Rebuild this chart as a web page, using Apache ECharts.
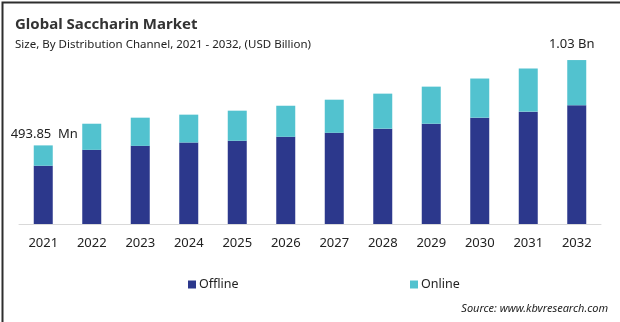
<!DOCTYPE html>
<html>
<head>
<meta charset="utf-8">
<script src="https://cdn.jsdelivr.net/npm/echarts@6/dist/echarts.min.js"></script>
<style>
  html, body { margin: 0; padding: 0; background: #fff; }
  #chart { width: 620px; height: 322px; }
</style>
</head>
<body>
<div id="chart"></div>
<script>
// Saccharin market size by distribution channel, USD million
const years = ['2021', '2022', '2023', '2024', '2025', '2026', '2027', '2028', '2029', '2030', '2031', '2032'];
const offline = [366, 466, 491, 512, 523, 548, 573, 599, 630, 668, 706, 746];
const online = [127.85, 164, 177, 175, 189, 195, 208, 220, 233, 246, 271, 284];

const FONT = '"Noto Sans", "Open Sans", sans-serif';
const totals = years.map((_, i) => offline[i] + online[i]);

function totalLabel(v) {
  return v >= 1000 ? (v / 1000).toFixed(2) + ' Bn' : v.toFixed(2) + '  Mn';
}

const chart = echarts.init(document.getElementById('chart'), null, { renderer: 'canvas' });

const onlineData = online.map((v, i) => {
  const item = { value: v };
  if (i === 0) {
    item.label = { show: true, offset: [1, 0] };
  } else if (i === online.length - 1) {
    item.label = { show: true, offset: [-5, -4] };
  }
  return item;
});

chart.setOption({
  animation: false,
  backgroundColor: '#ffffff',
  title: {
    text: 'Global Saccharin Market',
    subtext: 'Size, By Distribution Channel, 2021 - 2032, (USD Billion)',
    left: 10,
    top: 12,
    itemGap: 7,
    textStyle: { fontFamily: FONT, fontSize: 15, fontWeight: 'bold', color: '#333333' },
    subtextStyle: { fontFamily: FONT, fontSize: 11.5, color: '#222222' }
  },
  legend: [
    {
      data: ['Offline'],
      left: 183, top: 273,
      icon: 'rect', itemWidth: 8, itemHeight: 8, itemGap: 5,
      textStyle: { fontFamily: FONT, fontSize: 12.5, color: '#222222', padding: [0, 0, 0, -2] }
    },
    {
      data: ['Online'],
      left: 405, top: 273,
      icon: 'rect', itemWidth: 8, itemHeight: 8, itemGap: 5,
      textStyle: { fontFamily: FONT, fontSize: 12.5, color: '#222222', padding: [0, 0, 0, -2] }
    }
  ],
  grid: { left: 19, right: 19, top: 33, bottom: 98, containLabel: false },
  xAxis: {
    type: 'category',
    data: years,
    axisLine: { lineStyle: { color: '#d9d9d9', width: 1 } },
    axisTick: { show: false },
    axisLabel: { fontFamily: FONT, fontSize: 13, color: '#222222', margin: 13 }
  },
  yAxis: {
    type: 'value',
    min: 0,
    max: 1200,
    show: false,
    splitLine: { show: false }
  },
  series: [
    {
      name: 'Offline',
      type: 'bar',
      stack: 'total',
      barWidth: 19,
      data: offline,
      itemStyle: { color: '#2c388c' }
    },
    {
      name: 'Online',
      type: 'bar',
      stack: 'total',
      barWidth: 19,
      data: onlineData,
      itemStyle: { color: '#52c2cf' },
      label: {
        show: false,
        position: 'top',
        distance: 5,
        fontFamily: FONT,
        fontSize: 13,
        color: '#222222',
        formatter: p => totalLabel(totals[p.dataIndex])
      }
    }
  ],
  graphic: [
    {
      type: 'text',
      right: 12,
      top: 303,
      style: {
        text: 'Source: www.kbvresearch.com',
        font: 'italic 11px ' + FONT,
        fill: '#222222'
      }
    },
    {
      type: 'rect',
      left: 0, top: 0,
      shape: { x: 0, y: 0, width: 619, height: 321 },
      style: { fill: 'none', stroke: '#2e2e2e', lineWidth: 2 },
      silent: true
    }
  ]
});
</script>
</body>
</html>
